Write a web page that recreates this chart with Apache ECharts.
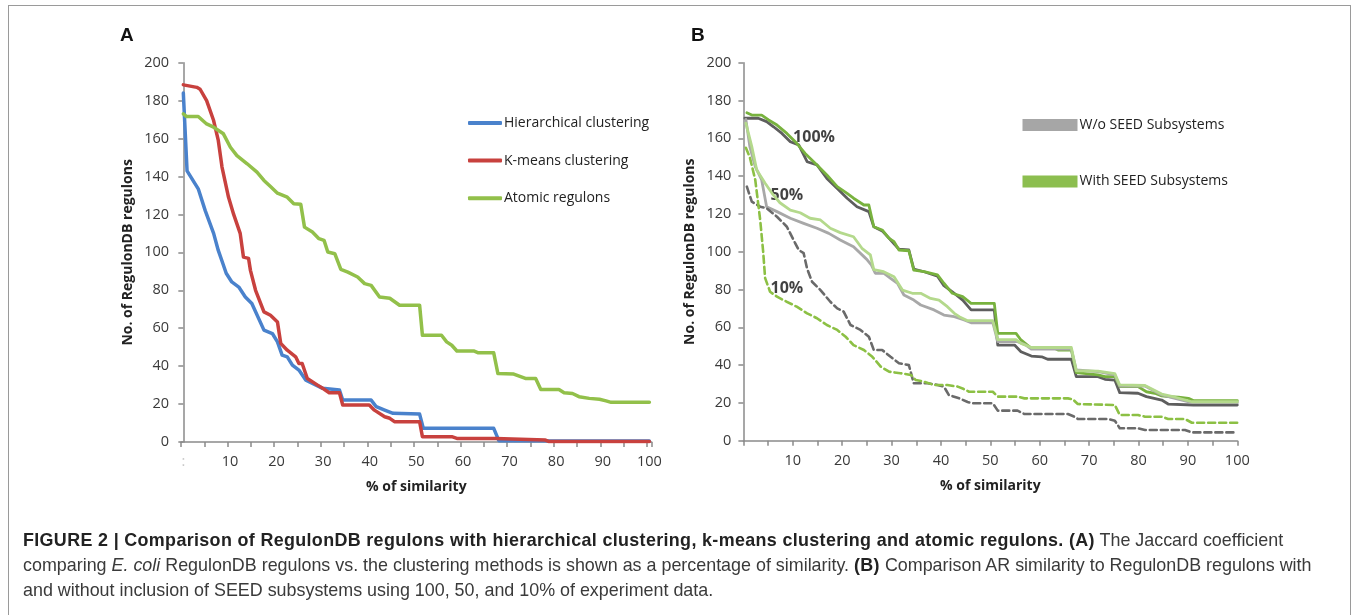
<!DOCTYPE html>
<html>
<head>
<meta charset="utf-8">
<script src="https://cdn.jsdelivr.net/npm/echarts@6/dist/echarts.min.js"></script>
<style>
  html, body { margin: 0; padding: 0; background: #fff; }
  #wrap { position: relative; width: 1358px; height: 615px; overflow: hidden; }
  #chart { position: absolute; left: 0; top: 0; width: 1358px; height: 615px; }
  #frame { position: absolute; left: 8px; top: 5px; width: 1343px; height: 620px; border: 1px solid #9a9a9a; box-sizing: border-box; }
  #caption {
    position: absolute; left: 23px; top: 528px; width: 1320px;
    font-family: "Liberation Sans", Arial, sans-serif; font-size: 17.9px; line-height: 25px;
    color: #3a3a3a; white-space: nowrap;
  }
  #caption b { color: #222; letter-spacing: 0.35px; }
</style>
</head>
<body>
<div id="wrap">
  <div id="chart"></div>
  <div id="frame"></div>
  <div id="caption">
    <b>FIGURE 2 | Comparison of RegulonDB regulons with hierarchical clustering, k-means clustering and atomic regulons. (A)</b> The Jaccard coefficient<br>
    comparing <i>E. coli</i> RegulonDB regulons vs. the clustering methods is shown as a percentage of similarity. <b>(B)</b> Comparison AR similarity to RegulonDB regulons with<br>
    and without inclusion of SEED subsystems using 100, 50, and 10% of experiment data.
  </div>
</div>
<script>
// ---- panel A: % of similarity (category index) vs no. of regulons ----
const categoriesA = Array.from({ length: 101 }, (_, i) => String(i));
const hierarchical = [[0,184],[0.8,143],[3.2,133.5],[4.7,122],[6.5,110],[7.5,101],[8.5,94],[9.2,89],[10.4,84.4],[11.9,81.7],[13.3,76.5],[14.7,73],[17.3,59],[19.1,57.2],[20.2,52.8],[21.2,45.8],[22.3,44.9],[23.4,40.5],[24.8,37.9],[26.3,32.6],[29.9,28.3],[33.5,27.4],[34.2,22.1],[40.3,22.1],[41.4,18.6],[43.2,16.8],[45,15.1],[50.7,14.7],[51.5,7.2],[66.6,7.2],[67.7,0.7],[100,0.5]];
const kmeans = [[0,188.3],[2.9,187],[3.6,186],[5,180],[6.5,169.5],[7.5,159],[8.3,145],[9.7,129],[10.8,120],[12.2,110],[12.9,97.5],[14,96.8],[14.4,90.5],[15.5,80],[17.3,68.6],[18.7,66.8],[20.2,63.3],[20.9,52],[22.3,48.4],[24.1,44.9],[24.8,41.4],[25.5,41.4],[26.6,33.5],[28.8,30],[29.9,28.3],[31.3,26],[33.5,26],[34.2,19.5],[39.9,19.5],[41,16.8],[43.2,13.3],[44.3,12.5],[45.3,10.7],[50.7,10.7],[51.3,2.8],[57.6,2.8],[58.7,1.9],[67,1.9],[67.3,1],[77.7,1],[78.5,0.2],[100,0.2]];
const atomic = [[0,173],[0.7,171.6],[3.2,171.6],[5,167.7],[6.5,166],[8.6,162.5],[10.1,155.4],[11.5,151],[13.7,146.7],[15.8,142.3],[17.3,137.9],[18.7,134.7],[20.2,131.2],[22.3,129.1],[23.7,125.6],[25.2,125.3],[26,113.3],[27.7,110.7],[29.1,107.2],[30.2,106.3],[31,100.2],[32.5,99.3],[33.8,91],[35.3,89.6],[37.4,87],[38.9,83.5],[40.3,82.6],[42.1,76.5],[44.3,75.8],[46.4,72.1],[50.7,72.1],[51.3,56.3],[55.4,56.3],[56.5,52.8],[57.6,51],[58.7,48],[62.3,48],[63.3,47],[66.6,47],[67.5,36.1],[70.9,35.8],[73.4,33.5],[75.6,33.5],[76.7,27.7],[80.6,27.7],[81.7,26],[83.5,25.6],[84.9,23.9],[87.1,23],[89.3,22.5],[90.7,21.7],[91.8,20.9],[100,20.9]];

// ---- panel B: with / without SEED subsystems at 100, 50, 10% of data ----
const with100 = [[0.7,173.5],[1.7,172.3],[3.7,172.3],[5.1,169.7],[6.8,167],[8.8,162.6],[10.5,158.2],[12.5,152],[14.9,145.9],[16.9,140.6],[19,134.4],[21,130.9],[22.3,128.3],[24.4,124.7],[25.4,124.7],[26.4,113.2],[28.1,111.5],[29.5,107.1],[30.5,105.3],[31.5,100.9],[33.5,100.5],[34.5,90.3],[36.6,89.4],[39.3,87.7],[40.6,83.3],[42.3,78],[44.4,76.2],[46.1,72.7],[50.8,72.7],[51.5,56.8],[55.2,56.8],[56.2,53.3],[58.3,48.9],[63,48.9],[63.7,48],[66.4,48],[67.4,36],[71.8,34.8],[73.2,33.9],[75.2,33.9],[76.2,28.6],[79.9,28.6],[81.6,25.9],[83.3,25.1],[84.7,23.7],[86,23.3],[88.1,23],[90.1,22.4],[91.1,21.2],[100,21.2]];
const without100 = [[0.3,170.6],[3,170.6],[4.7,168.8],[6.1,166.1],[7.8,162.6],[9.5,158.2],[11.2,156.5],[12.9,147.6],[14.9,145.9],[16.9,138.8],[19,133.5],[21,128.3],[23,123.8],[25.4,121.2],[26.4,113.2],[28.1,111],[29.5,107.1],[31.5,101.3],[33.5,100.9],[34.5,90.8],[36.6,89.4],[39.3,87],[40.6,82],[42.3,78.8],[44.4,74.4],[46.1,69.2],[50.8,69.2],[51.5,50.6],[54.9,50.6],[56.2,47.1],[58.3,44.8],[60.4,44.4],[61.6,43.1],[66.4,43.1],[67.4,33.9],[71.8,33.9],[73.2,32.5],[75.2,32.1],[76.2,25.4],[79.9,25.1],[81.6,23.3],[84.7,21.5],[86,19.4],[91.1,18.9],[100,18.9]];
const with50 = [[0.5,168],[1.7,155.6],[2.7,143.2],[4.4,136.2],[5.8,130.9],[7.4,125.9],[9.5,122],[11.5,120.6],[13.5,117.7],[15.6,116.8],[17.6,112.4],[19.6,110.1],[22.3,107.9],[24,101.8],[25.7,98.3],[26.4,90.5],[28.4,89.4],[30.5,86.8],[32.2,79.7],[34.2,78],[35.9,78],[37.9,75.3],[39.6,74.4],[41.3,70.9],[42.7,67.4],[43.7,65.6],[45.4,63.5],[50.5,63.5],[51.5,53.5],[55.2,53.5],[56.2,51.5],[58.3,49.3],[66.4,49.3],[67.4,37],[71.8,36.8],[75.2,35.5],[76.2,29.5],[81.3,29.2],[84.7,24.7],[87.4,23],[90.8,20.6],[100,20.6]];
const without50 = [[0.5,170],[1.3,155.6],[2.4,145],[3.7,138],[4.7,123.8],[6.8,121.2],[9.5,117.7],[12.2,115],[14.9,112.4],[17.3,109.7],[19.6,106.2],[22.3,102.6],[24.4,97.4],[25.1,95.6],[25.9,93],[26.7,88.6],[28.4,88.6],[29.8,85.9],[31.2,83.3],[32.5,77.1],[34.5,74.4],[35.9,71.8],[38.6,69.2],[40.6,66.5],[42.7,65.6],[44.7,63.9],[46.1,62.4],[50.5,62.4],[51.5,52.4],[55.5,52.4],[57.2,50.6],[58.3,48.4],[66.4,48.4],[67.4,37.4],[71.8,36.5],[75.2,34.8],[76.2,28.9],[81.3,28.9],[84.7,24.2],[87.4,22.4],[90.8,20.1],[100,20.1]];
const with10 = [[0.5,155],[1.3,150],[2.4,138],[3.4,116.8],[4,100],[4.4,86],[5.4,78.8],[6.8,76.2],[8.8,73.5],[10.8,70.9],[12.9,67.4],[14.9,64.8],[16.9,61.2],[19,58.6],[20.7,55],[22.3,50.6],[24.4,48],[26.1,44.4],[27.8,39.2],[29.5,36.5],[31.8,35.7],[33.9,34.8],[34.9,32.1],[36.6,31.2],[38.6,29.5],[41.3,29.5],[43.4,28.6],[44.5,27.5],[45.7,25.9],[50.5,25.9],[51.5,23.3],[55.5,23.3],[56.9,22.4],[65.7,22.4],[66.7,21.9],[67.7,19.4],[75.2,18.9],[76.2,13.6],[79.9,13.6],[81.3,12.7],[84.7,12.7],[86,11.5],[89.4,11.5],[90.8,9.5],[100,9.5]];
const without10 = [[0.7,134.4],[1.7,126.5],[3.4,123.8],[4.7,123],[6.8,118.5],[8.8,113.2],[10.5,104.4],[11.2,100.9],[12.2,99.2],[12.9,91],[13.9,84.1],[15.6,79.7],[17.6,73.5],[19,70],[20.3,68.3],[21.7,61.2],[23.7,58.6],[25.4,55],[26.4,48],[28.1,48],[29.8,44.4],[31.5,41],[33.5,40],[34.5,30.4],[37.3,30.4],[39.3,29.5],[40.6,28.6],[41.6,24.2],[43.7,22.4],[45.4,20.5],[46.4,19.8],[50.5,19.8],[51.5,15.9],[55.5,15.9],[56.9,14.1],[65.7,14.1],[67,12.7],[67.7,11.5],[73.8,11.5],[75.2,10.6],[76.2,6.6],[79.9,6.6],[81.3,5.7],[89.4,5.7],[90.8,4.4],[100,4.4]];
const percentLabels = [[14.3,160.4,'100%'],[8.8,130,'50%'],[8.8,80.6,'10%']];

const FONT = '"Open Sans", sans-serif';
const axisGray = '#8a8a8a';

function yAxisFor(grid) {
  return {
    type: 'value', gridIndex: grid, min: 0, max: 200, interval: 20,
    name: 'No. of RegulonDB regulons', nameLocation: 'middle', nameGap: 46,
    nameTextStyle: { fontFamily: FONT, fontSize: 14, fontWeight: 'bold', color: '#222' },
    axisLine: { show: true, lineStyle: { color: axisGray, width: 1.5 } },
    axisTick: { show: true, length: 5, lineStyle: { color: axisGray, width: 1.5 } },
    axisLabel: { fontFamily: FONT, fontSize: 14.5, color: '#3a3a3a', margin: 12 },
    splitLine: { show: false },
  };
}

function lineSeries(name, data, xi, yi, color, width, dashed) {
  return {
    name, type: 'line', data, xAxisIndex: xi, yAxisIndex: yi,
    showSymbol: false, symbol: 'none',
    lineStyle: { color, width, type: dashed ? [7, 4] : 'solid', cap: 'round', join: 'round' },
    itemStyle: { color },
  };
}

const chart = echarts.init(document.getElementById('chart'));
chart.setOption({
  animation: false,
  title: [
    { text: 'A', left: 120, top: 26, padding: 0, textStyle: { fontFamily: '"Liberation Sans", Arial', fontSize: 19, fontWeight: 'bold', color: '#111' } },
    { text: 'B', left: 691, top: 26, padding: 0, textStyle: { fontFamily: '"Liberation Sans", Arial', fontSize: 19, fontWeight: 'bold', color: '#111' } },
  ],
  grid: [
    { left: 181, top: 62.7, width: 470.7, height: 379.3 },
    { left: 743.4, top: 62.7, width: 493.9, height: 378 },
  ],
  legend: [
    {
      data: ['Hierarchical clustering', 'K-means clustering', 'Atomic regulons'],
      orient: 'vertical', left: 468, top: 116, padding: 0,
      icon: 'roundRect', itemWidth: 34, itemHeight: 4, itemGap: 23.6,
      textStyle: { fontFamily: FONT, fontSize: 14, color: '#222', padding: [0, 0, 0, -3] },
    },
    {
      data: [
        { name: 'W/o SEED Subsystems', itemStyle: { color: '#a6a6a6' } },
        { name: 'With SEED Subsystems', itemStyle: { color: '#8cbe4f' } },
      ],
      orient: 'vertical', left: 1022.5, top: 118, padding: 0,
      icon: 'rect', itemWidth: 55, itemHeight: 12, itemGap: 42.4,
      textStyle: { fontFamily: FONT, fontSize: 14, color: '#222', padding: [0, 0, 0, -3] },
    },
  ],
  xAxis: [
    { type: 'value', gridIndex: 0, min: -0.5, max: 100.5, show: false },
    {
      type: 'category', gridIndex: 0, position: 'bottom', data: categoriesA, boundaryGap: true,
      name: '% of similarity', nameLocation: 'middle', nameGap: 38,
      nameTextStyle: { fontFamily: FONT, fontSize: 14, fontWeight: 'bold', color: '#222' },
      axisLine: { show: true, lineStyle: { color: axisGray, width: 1.5 } },
      axisTick: { show: true, length: 5, interval: (i) => i % 5 === 0, lineStyle: { color: axisGray, width: 1.5 } },
      axisLabel: {
        fontFamily: FONT, fontSize: 14.5, margin: 12.5,
        interval: (i) => i % 10 === 0,
        formatter: (v, i) => (i === 0 ? ':' : v),
        color: (v, i) => (v === '0' ? '#c8c8c8' : '#3a3a3a'),
      },
      splitLine: { show: false },
    },
    {
      type: 'value', gridIndex: 1, min: 0, max: 100, interval: 5,
      name: '% of similarity', nameLocation: 'middle', nameGap: 38,
      nameTextStyle: { fontFamily: FONT, fontSize: 14, fontWeight: 'bold', color: '#222' },
      axisLine: { show: true, lineStyle: { color: axisGray, width: 1.5 } },
      axisTick: { show: true, length: 5, lineStyle: { color: axisGray, width: 1.5 } },
      axisLabel: {
        fontFamily: FONT, fontSize: 14.5, color: '#3a3a3a', margin: 12.5,
        formatter: (v) => (v % 10 === 0 && v !== 0 ? String(v) : ''),
      },
      splitLine: { show: false },
    },
  ],
  yAxis: [yAxisFor(0), yAxisFor(1)],
  series: [
    lineSeries('Hierarchical clustering', hierarchical, 0, 0, '#4a82cc', 3.5),
    lineSeries('K-means clustering', kmeans, 0, 0, '#c8413e', 3.5),
    lineSeries('Atomic regulons', atomic, 0, 0, '#92c04a', 3.5),

    lineSeries('W/o SEED Subsystems', without100, 2, 1, '#5e5e5e', 2.8),
    lineSeries('With SEED Subsystems', with100, 2, 1, '#78b23e', 2.8),
    lineSeries('W/o SEED 50%', without50, 2, 1, '#a8a8a8', 2.8),
    lineSeries('With SEED 50%', with50, 2, 1, '#b4d98c', 2.8),
    lineSeries('W/o SEED 10%', without10, 2, 1, '#6a6a6a', 2.6, true),
    lineSeries('With SEED 10%', with10, 2, 1, '#8cc044', 2.6, true),
    {
      name: 'percent labels', type: 'scatter', xAxisIndex: 2, yAxisIndex: 1,
      data: percentLabels, symbolSize: 0, silent: true,
      label: {
        show: true, position: 'inside', formatter: (p) => p.data[2],
        fontFamily: FONT, fontSize: 16, fontWeight: 'bold', color: '#111',
      },
    },
  ],
});
</script>
</body>
</html>
